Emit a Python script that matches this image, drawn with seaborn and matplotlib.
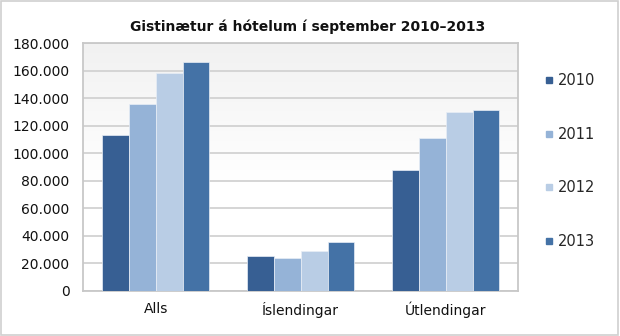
import numpy as np
import pandas as pd
import seaborn as sns
import matplotlib
matplotlib.use("Agg")
import matplotlib.pyplot as plt
from matplotlib.lines import Line2D
from matplotlib.patches import Rectangle
from matplotlib.ticker import FuncFormatter, MultipleLocator

# Guest nights at hotels in September, by group and year
categories = ["Alls", "Íslendingar", "Útlendingar"]
years = ["2010", "2011", "2012", "2013"]
values_2010 = [113000, 25000, 87600]
values_2011 = [136000, 24000, 111300]
values_2012 = [158200, 28900, 130000]
values_2013 = [166400, 35400, 131700]
colors = ["#375F93", "#95B3D7", "#B9CDE5", "#4472A6"]
title = "Gistinætur á hótelum í september 2010–2013"

series = [values_2010, values_2011, values_2012, values_2013]
df = pd.DataFrame(
    [(c, y, v) for y, vals in zip(years, series) for c, v in zip(categories, vals)],
    columns=["flokkur", "ár", "gistinætur"],
)

sns.set_theme(style="white")
plt.rcParams["font.family"] = ["DejaVu Sans"]

fig = plt.figure(figsize=(6.2, 3.36), dpi=100)
ax = fig.add_axes([0.1344, 0.1348, 0.7016, 0.7363])

# soft grey-to-white gradient behind the plot area (grey at the top)
grad = np.linspace(0.0, 1.0, 256).reshape(-1, 1)
ax.imshow(
    grad, cmap=matplotlib.colors.LinearSegmentedColormap.from_list(
        "bg", [(0.0, "#F1F1F1"), (0.55, "#FFFFFF"), (1.0, "#FFFFFF")]),
    extent=[-0.5, 2.5, 0, 180000], aspect="auto", zorder=0,
    origin="upper", interpolation="bilinear",
)

sns.barplot(
    data=df, x="flokkur", y="gistinætur", hue="ár", palette=colors,
    saturation=1, width=0.74, gap=0, edgecolor="#E8EEF6", linewidth=0.5,
    ax=ax, legend=False, zorder=3,
)

ax.set_xlim(-0.5, 2.5)
ax.set_ylim(0, 180000)
ax.yaxis.set_major_locator(MultipleLocator(20000))
ax.yaxis.set_major_formatter(
    FuncFormatter(lambda v, _: f"{int(v):,}".replace(",", "."))
)
ax.grid(axis="y", color="#D2D2D2", linewidth=1.3, zorder=1)
ax.set_axisbelow(True)
for s in ax.spines.values():
    s.set_color("#C8C8C8")
    s.set_linewidth(1.3)
    s.set_visible(True)
ax.set_xlabel("")
ax.set_ylabel("")
ax.tick_params(axis="y", length=0, pad=10, labelsize=10, labelcolor="#111111")
ax.tick_params(axis="x", length=0, pad=8, labelsize=10, labelcolor="#111111")

fig.text(308 / 620, 1 - 27 / 336, title, ha="center", va="center",
         fontsize=10, fontweight="bold", color="#111111")

handles = [Line2D([], [], marker="s", linestyle="none", markersize=5,
                  markerfacecolor=c, markeredgecolor=c) for c in colors]
fig.legend(handles, years, loc="upper left",
           bbox_to_anchor=(545 / 620, 1 - 73 / 336), frameon=False,
           fontsize=10.5, handlelength=0.6, handletextpad=0.3,
           labelspacing=2.65, borderpad=0, borderaxespad=0)

# thin frame around the whole chart
fig.patches.append(Rectangle((0.0015, 0.003), 0.996, 0.993, transform=fig.transFigure,
                             fill=False, edgecolor="#D0D0D0", linewidth=1.2))

fig.savefig("out.png", dpi=100)
